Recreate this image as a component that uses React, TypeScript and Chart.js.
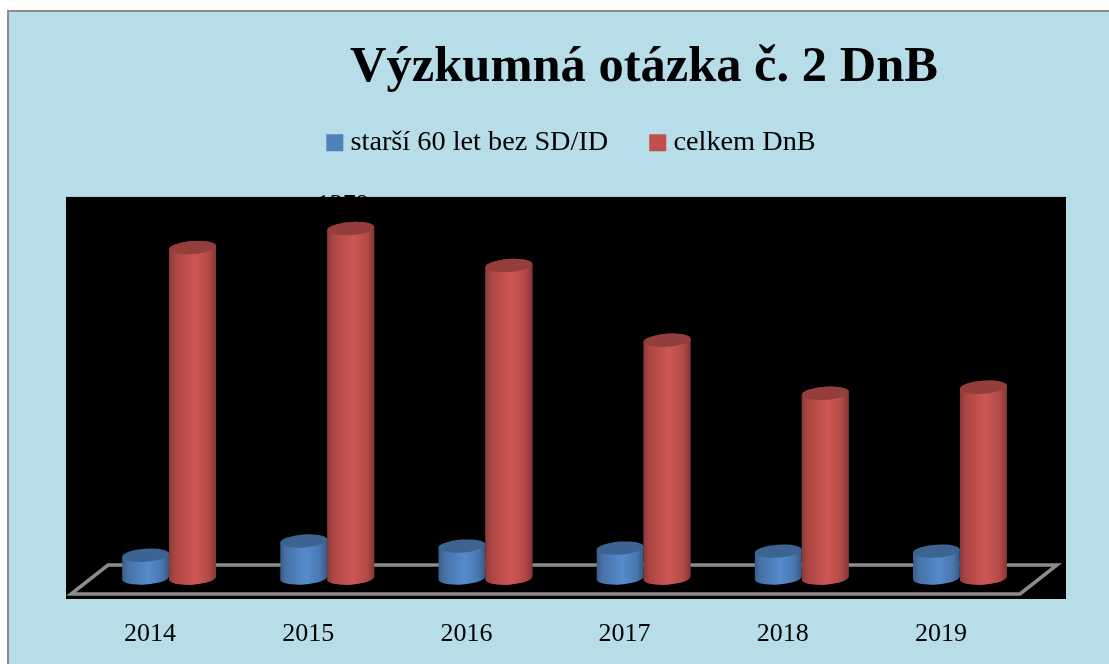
import React, { useEffect, useRef } from "react";
import { Chart, registerables, BarController, BarElement } from "chart.js";

const categories = ["2014", "2015", "2016", "2017", "2018", "2019"];
const olderValues = [90, 146, 126, 118, 106, 106];
const totalValues = [1304, 1379, 1233, 938, 729, 753];
const seriesNames = ["starší 60 let bez SD/ID", "celkem DnB"];
const titleText = "Výzkumná otázka č. 2 DnB";

const FONT = "'Liberation Serif', serif";
const DEPTH_X = 19;
const DEPTH_Y = 16;
const ELLIPSE_RY = 6.5;
const TILT = -0.07;

function shade(hex: string, f: number) {
  const n = parseInt(hex.slice(1), 16);
  const c = [(n >> 16) & 255, (n >> 8) & 255, n & 255].map((v) => Math.min(255, Math.round(v * f)));
  return `rgb(${c[0]},${c[1]},${c[2]})`;
}

class CylinderBar extends BarElement {
  static id = "cylinder";
  draw(ctx: CanvasRenderingContext2D) {
    const { x, y, base, width } = (this as any).getProps(["x", "y", "base", "width"]);
    const col = (this as any).options.backgroundColor as string;
    const cx = x + DEPTH_X;
    const top = y - DEPTH_Y;
    const bottom = base - DEPTH_Y;
    const rx = width / 2;
    const dx = rx * Math.cos(TILT);
    const dy = rx * Math.sin(TILT);
    const g = ctx.createLinearGradient(cx - rx, 0, cx + rx, 0);
    g.addColorStop(0, shade(col, 0.72));
    g.addColorStop(0.12, shade(col, 0.88));
    g.addColorStop(0.55, shade(col, 1.08));
    g.addColorStop(0.85, shade(col, 0.92));
    g.addColorStop(1, shade(col, 0.68));
    ctx.save();
    ctx.beginPath();
    ctx.moveTo(cx - dx, top - dy);
    ctx.lineTo(cx - dx, bottom - dy);
    ctx.ellipse(cx, bottom, rx, ELLIPSE_RY, TILT, Math.PI, 0, true);
    ctx.lineTo(cx + dx, top + dy);
    ctx.closePath();
    ctx.fillStyle = g;
    ctx.fill();
    ctx.beginPath();
    ctx.ellipse(cx, top, rx, ELLIPSE_RY, TILT, 0, Math.PI * 2);
    ctx.fillStyle = shade(col, 0.77);
    ctx.fill();
    ctx.restore();
  }
}

class CylinderController extends BarController {
  static id = "cylinderBar";
  static defaults = { ...(BarController as any).defaults, dataElementType: "cylinder" };
}

Chart.register(...registerables, CylinderBar as any, CylinderController as any);

const framePlugin = {
  id: "frame",
  beforeDraw(chart: any) {
    const { ctx, width, height, chartArea: a } = chart;
    ctx.save();
    ctx.fillStyle = "#ffffff";
    ctx.fillRect(0, 0, width, height);
    ctx.fillStyle = "#8a8a8a";
    ctx.fillRect(7, 10, width - 7, height - 10);
    ctx.fillStyle = "#b7dde8";
    ctx.fillRect(9, 12, width - 9, height - 12);
    ctx.fillStyle = "#000000";
    ctx.fillRect(a.left - 5, a.top - 17, a.right - a.left + 51, a.bottom - a.top + 22);
    ctx.restore();
  },
  beforeDatasetsDraw(chart: any) {
    const { ctx, chartArea: a } = chart;
    ctx.save();
    ctx.strokeStyle = "#8c8c8c";
    ctx.lineWidth = 3.5;
    ctx.lineJoin = "miter";
    ctx.beginPath();
    ctx.moveTo(a.left, a.bottom);
    ctx.lineTo(a.right, a.bottom);
    ctx.lineTo(a.right + 37, a.bottom - 29);
    ctx.lineTo(a.left + 37, a.bottom - 29);
    ctx.closePath();
    ctx.stroke();
    ctx.restore();
  },
  afterDatasetsDraw(chart: any) {
    const { ctx } = chart;
    // the taller series stands in front of the shorter one
    chart.getDatasetMeta(1).controller.draw();
    ctx.save();
    ctx.fillStyle = "#000000";
    ctx.font = `26px ${FONT}`;
    ctx.textAlign = "center";
    ctx.textBaseline = "alphabetic";
    chart.data.datasets.forEach((ds: any, i: number) => {
      chart.getDatasetMeta(i).data.forEach((el: any, j: number) => {
        ctx.fillText(String(ds.data[j]), el.x + DEPTH_X - 8, el.y - DEPTH_Y - 17);
      });
    });
    ctx.restore();
  },
  afterLayout(chart: any) {
    const t = chart.titleBlock;
    t.left += 98.5;
    t.right += 98.5;
    const l = chart.legend;
    l.left += 29;
    l.right += 29;
    l.top -= 47;
    l.bottom -= 47;
  },
};

export default function App() {
  const ref = useRef<HTMLCanvasElement>(null);
  useEffect(() => {
    const chart = new Chart(ref.current as HTMLCanvasElement, {
      type: "cylinderBar" as any,
      data: {
        labels: categories,
        datasets: [
          { label: seriesNames[0], data: olderValues, backgroundColor: "#4f81bd", clip: false as any },
          { label: seriesNames[1], data: totalValues, backgroundColor: "#c0504d", clip: false as any },
        ],
      },
      options: {
        animation: false,
        responsive: false,
        datasets: { cylinderBar: { barPercentage: 1, categoryPercentage: 0.594 } } as any,
        layout: { padding: { left: 71, right: 89, top: 0, bottom: 0 } },
        plugins: {
          tooltip: { enabled: false },
          title: {
            display: true,
            text: titleText,
            color: "#000000",
            font: { family: FONT, size: 50.5, weight: "bold" },
            padding: { top: 38, bottom: 29 },
          },
          legend: {
            display: true,
            position: "top",
            labels: {
              color: "#000000",
              font: { family: FONT, size: 28.3 },
              usePointStyle: true,
              pointStyle: "rect",
              boxWidth: 3,
              boxHeight: 17,
              padding: 48,
            },
          },
        },
        scales: {
          x: {
            type: "category",
            grid: { display: false, drawTicks: false },
            border: { display: false },
            ticks: { color: "#000000", font: { family: FONT, size: 26 }, padding: 25, maxRotation: 0, autoSkip: false },
            afterFit(axis: any) {
              axis.height = 70;
            },
          },
          y: { type: "linear", display: false, min: 0, max: 1500 },
        },
      },
      plugins: [framePlugin],
    } as any);
    return () => chart.destroy();
  }, []);
  return (
    <div style={{ position: "absolute", left: 0, top: 0, width: 1109, height: 664 }}>
      <canvas ref={ref} width={1109} height={664} style={{ display: "block" }} />
    </div>
  );
}
